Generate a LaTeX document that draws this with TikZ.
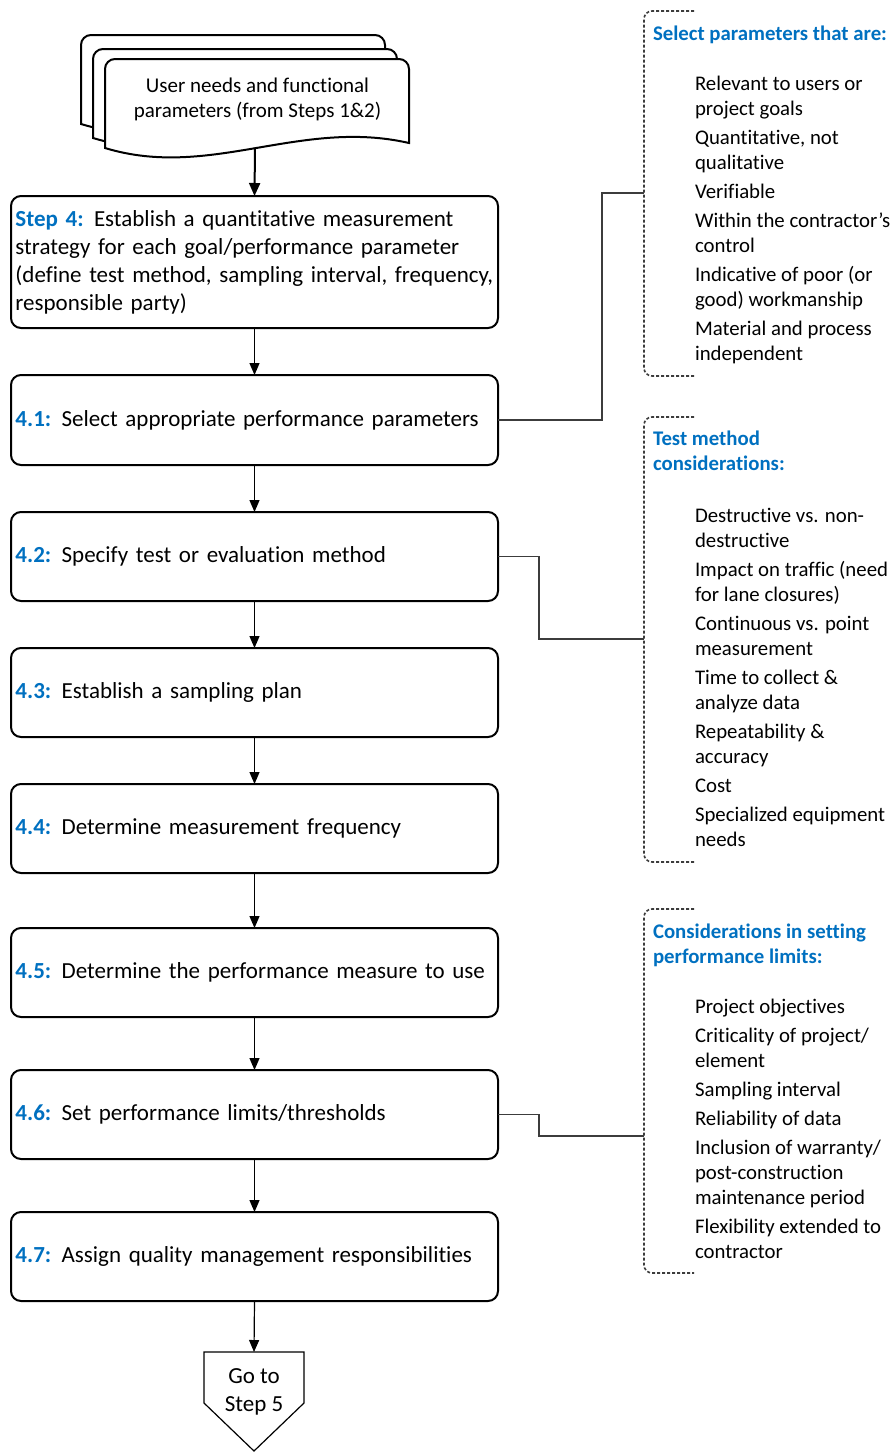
\documentclass[tikz,border=0pt]{standalone}
\usepackage{fontspec}
\setmainfont{Carlito}[Ligatures={NoCommon}]
\usetikzlibrary{arrows.meta}
\definecolor{labelblue}{HTML}{0070C0}
\definecolor{linegray}{HTML}{3C3C3C}
\newcommand{\steplabel}[1]{\textcolor{labelblue}{\textbf{#1}}\hspace{0.45em}}

\tikzset{
  stepbox/.style={draw, line width=2pt, rounded corners=10pt, text width=478pt,
    align=left, inner xsep=4.5pt, inner ysep=0pt, outer sep=0pt,
    anchor=north west, minimum height=#1, font=\fontsize{23}{28}\selectfont},
  flowarrow/.style={-{Triangle[length=12pt,width=10pt]}, line width=1.2pt},
  thickarrow/.style={-{Triangle[length=13pt,width=11pt]}, line width=2pt},
  link/.style={draw=linegray, line width=1.2pt},
  bracket/.style={draw=linegray, line width=1.6pt, dash pattern=on 3pt off 2pt,
    rounded corners=8pt},
  sidetitle/.style={anchor=north west, inner sep=0pt, outer sep=0pt, align=left,
    text=labelblue, font=\fontsize{20.8}{25}\selectfont\bfseries},
  sidelist/.style={anchor=north west, inner sep=0pt, outer sep=0pt, align=left,
    font=\fontsize{20.8}{25}\selectfont},
  pics/docsheet/.style={code={
    \draw[line width=2pt, fill=white, rounded corners=10pt]
      (0,89) -- (0,0) -- (304,0) -- (304,40) [sharp corners] -- (304,84)
      .. controls (195,59) and (105,121) .. (0,89) -- cycle;
  }}
}

\begin{document}
\begin{tikzpicture}[x=1pt,y=-1pt]
\useasboundingbox (0,0) rectangle (895,1452);

% stacked input documents
\pic at (81,35) {docsheet};
\pic at (93,49) {docsheet};
\pic at (105,59) {docsheet};
\node[anchor=north, inner sep=0pt, outer sep=0pt, align=center,
  font=\fontsize{21}{25}\selectfont] (needs) at (257.5,72)
  {\rule{0pt}{20pt}User needs and functional\\parameters (from Steps 1\&2)};
\coordinate (docbottom) at (255,148);

% main process boxes
\node[stepbox=132pt] (s4) at (11,196)
  {\steplabel{Step 4:}Establish a quantitative measurement\\strategy for each goal/performance parameter\\(define test method, sampling interval, frequency,\\responsible party)};
\node[stepbox=90pt] (s41) at (11,375) {\steplabel{4.1:}Select appropriate performance parameters};
\node[stepbox=89pt] (s42) at (11,512) {\steplabel{4.2:}Specify test or evaluation method};
\node[stepbox=89pt] (s43) at (11,648) {\steplabel{4.3:}Establish a sampling plan};
\node[stepbox=89pt] (s44) at (11,784) {\steplabel{4.4:}Determine measurement frequency};
\node[stepbox=89pt] (s45) at (11,928) {\steplabel{4.5:}Determine the performance measure to use};
\node[stepbox=89pt] (s46) at (11,1070) {\steplabel{4.6:}Set performance limits/thresholds};
\node[stepbox=89pt] (s47) at (11,1212) {\steplabel{4.7:}Assign quality management responsibilities};

% off-page connector
\draw[line width=1.2pt] (204,1352) -- (304,1352) -- (304,1403) -- (254,1451) -- (204,1403) -- cycle;
\coordinate (gotop) at (254,1352);
\node[anchor=north, inner sep=0pt, outer sep=0pt, align=center,
  font=\fontsize{23}{28}\selectfont] (go) at (254,1363)
  {\rule{0pt}{20pt}Go to\\Step 5};

% flow arrows
\draw[thickarrow] (docbottom) -- (s4.north);
\draw[flowarrow] (s4.south) -- (s41.north);
\draw[flowarrow] (s41.south) -- (s42.north);
\draw[flowarrow] (s42.south) -- (s43.north);
\draw[flowarrow] (s43.south) -- (s44.north);
\draw[flowarrow] (s44.south) -- (s45.north);
\draw[flowarrow] (s45.south) -- (s46.north);
\draw[flowarrow] (s46.south) -- (s47.north);
\draw[flowarrow] (s47.south) -- (gotop);

% side notes: brackets
\draw[bracket] (694,11) -- (644,11) -- (644,376) -- (694,376);
\draw[bracket] (694,417) -- (644,417) -- (644,862) -- (694,862);
\draw[bracket] (694,909) -- (644,909) -- (644,1273) -- (694,1273);
\coordinate (b1) at (644,193);
\coordinate (b2) at (644,639);
\coordinate (b3) at (644,1136);

\draw[link] (s41.east) -- ++(104,0) |- (b1);
\draw[link] (s42.east) -- ++(41,0) |- (b2);
\draw[link] (s46.east) -- ++(41,0) |- (b3);

% side notes: text
\node[sidetitle] (t1) at (653,20) {\rule{0pt}{20pt}Select parameters that are:};
\node[sidelist] (l1) at (695,70) {\rule{0pt}{20pt}Relevant to users or\\project goals\\[4pt]
  Quantitative, not\\qualitative\\[4pt]
  Verifiable\\[4pt]
  Within the contractor’s\\control\\[4pt]
  Indicative of poor (or\\good) workmanship\\[4pt]
  Material and process\\independent};

\node[sidetitle] (t2) at (653,425) {\rule{0pt}{20pt}Test method\\considerations:};
\node[sidelist] (l2) at (695,502) {\rule{0pt}{20pt}Destructive vs. non-\\destructive\\[4pt]
  Impact on traffic (need\\for lane closures)\\[4pt]
  Continuous vs. point\\measurement\\[4pt]
  Time to collect \&\\analyze data\\[4pt]
  Repeatability \&\\accuracy\\[4pt]
  Cost\\[4pt]
  Specialized equipment\\needs};

\node[sidetitle] (t3) at (653,918) {\rule{0pt}{20pt}Considerations in setting\\performance limits:};
\node[sidelist] (l3) at (695,993) {\rule{0pt}{20pt}Project objectives\\[4pt]
  Criticality of project/\\element\\[4pt]
  Sampling interval\\[4pt]
  Reliability of data\\[4pt]
  Inclusion of warranty/\\post-construction\\maintenance period\\[4pt]
  Flexibility extended to\\contractor};
\end{tikzpicture}
\end{document}
